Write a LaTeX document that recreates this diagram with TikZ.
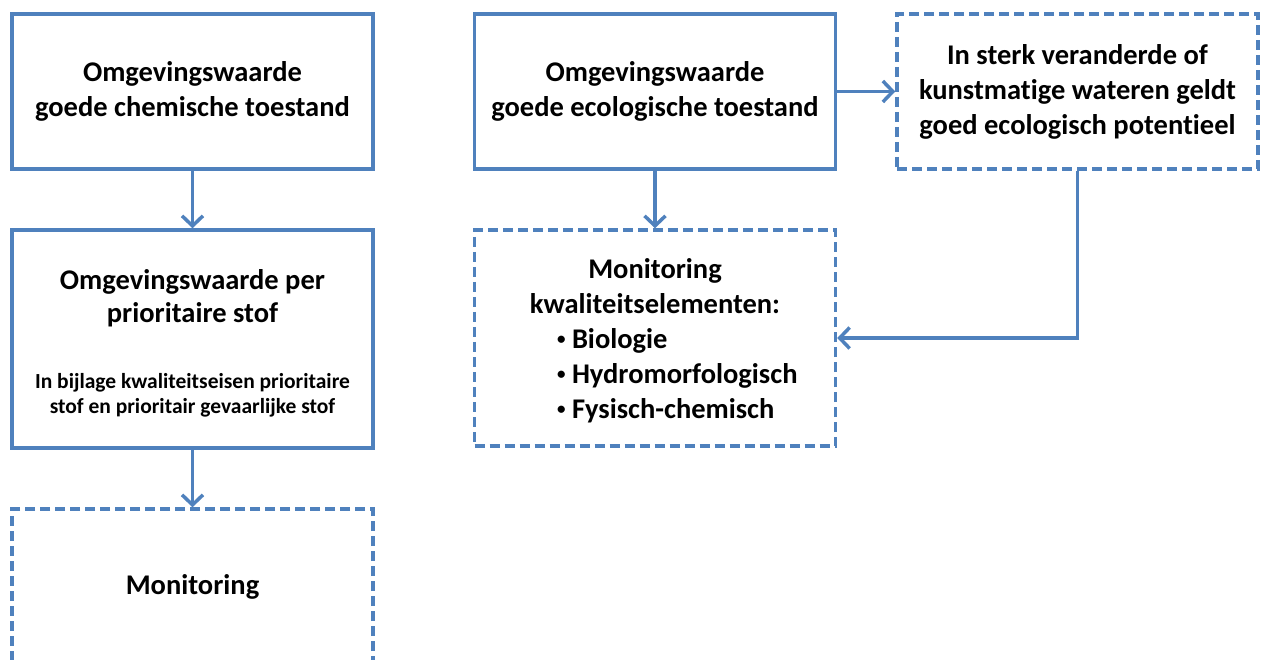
\documentclass[tikz,border=0pt]{standalone}
\usepackage{fontspec}
\setmainfont{Carlito}[Ligatures=NoCommon]
\usetikzlibrary{arrows.meta}
\definecolor{lineblue}{RGB}{79,129,189}
\newcommand{\smbullet}{\makebox[15pt][l]{\raisebox{4pt}{\fontsize{17}{17}\selectfont •}}}
\tikzset{
  boxsolid/.style={draw=lineblue, line width=3.5pt, minimum width=361pt, inner sep=0pt, align=center, font=\bfseries\fontsize{28.5}{35}\selectfont},
  boxdash/.style={boxsolid, dash pattern=on 10pt off 5pt},
  plaintext/.style={inner sep=0pt, align=center, font=\bfseries\fontsize{28.5}{33}\selectfont},
  conn/.style={draw=lineblue, line width=3.5pt, -{Straight Barb[length=10pt,width=21pt]}}
}
\begin{document}
\begin{tikzpicture}[x=1pt,y=-1pt]
\clip (0,0) rectangle (1261,660);
\fill[white] (0,0) rectangle (1261,660);
\node[boxsolid, minimum height=155pt] (A) at (192.5,91.5) {Omgevingswaarde\\goede chemische toestand};
\node[boxsolid, minimum height=218pt] (B) at (192.5,339) {};
\node[plaintext] (Bt) at (192.5,343) {Omgevingswaarde per\\prioritaire stof\\[33pt]{\fontsize{21.5}{25}\selectfont In bijlage kwaliteitseisen prioritaire}\\[-8pt]{\fontsize{21.5}{25}\selectfont stof en prioritair gevaarlijke stof}};
\node[boxdash, minimum height=156pt] (C) at (192.5,587) {Monitoring};
\node[boxsolid, minimum height=155pt] (D) at (655,91.5) {Omgevingswaarde\\goede ecologische toestand};
\node[boxdash, minimum height=155pt] (E) at (1077.5,91.5) {In sterk veranderde of\\kunstmatige wateren geldt\\goed ecologisch potentieel};
\node[boxdash, minimum height=216pt] (F) at (655,338) {};
\node[plaintext, font=\bfseries\fontsize{28.5}{35}\selectfont] (Ft) at (655,341) {Monitoring\\kwaliteitselementen:\\\makebox[196pt][l]{\smbullet Biologie}\\\makebox[196pt][l]{\smbullet Hydromorfologisch}\\\makebox[196pt][l]{\smbullet Fysisch-chemisch}};
\draw[conn] (A.south) -- (B.north);
\draw[conn] (B.south) -- (C.north);
\draw[conn] (D.south) -- (F.north);
\draw[conn] (D.east) -- (E.west);
\draw[conn] (E.south) |- (F.east);
\end{tikzpicture}
\end{document}
